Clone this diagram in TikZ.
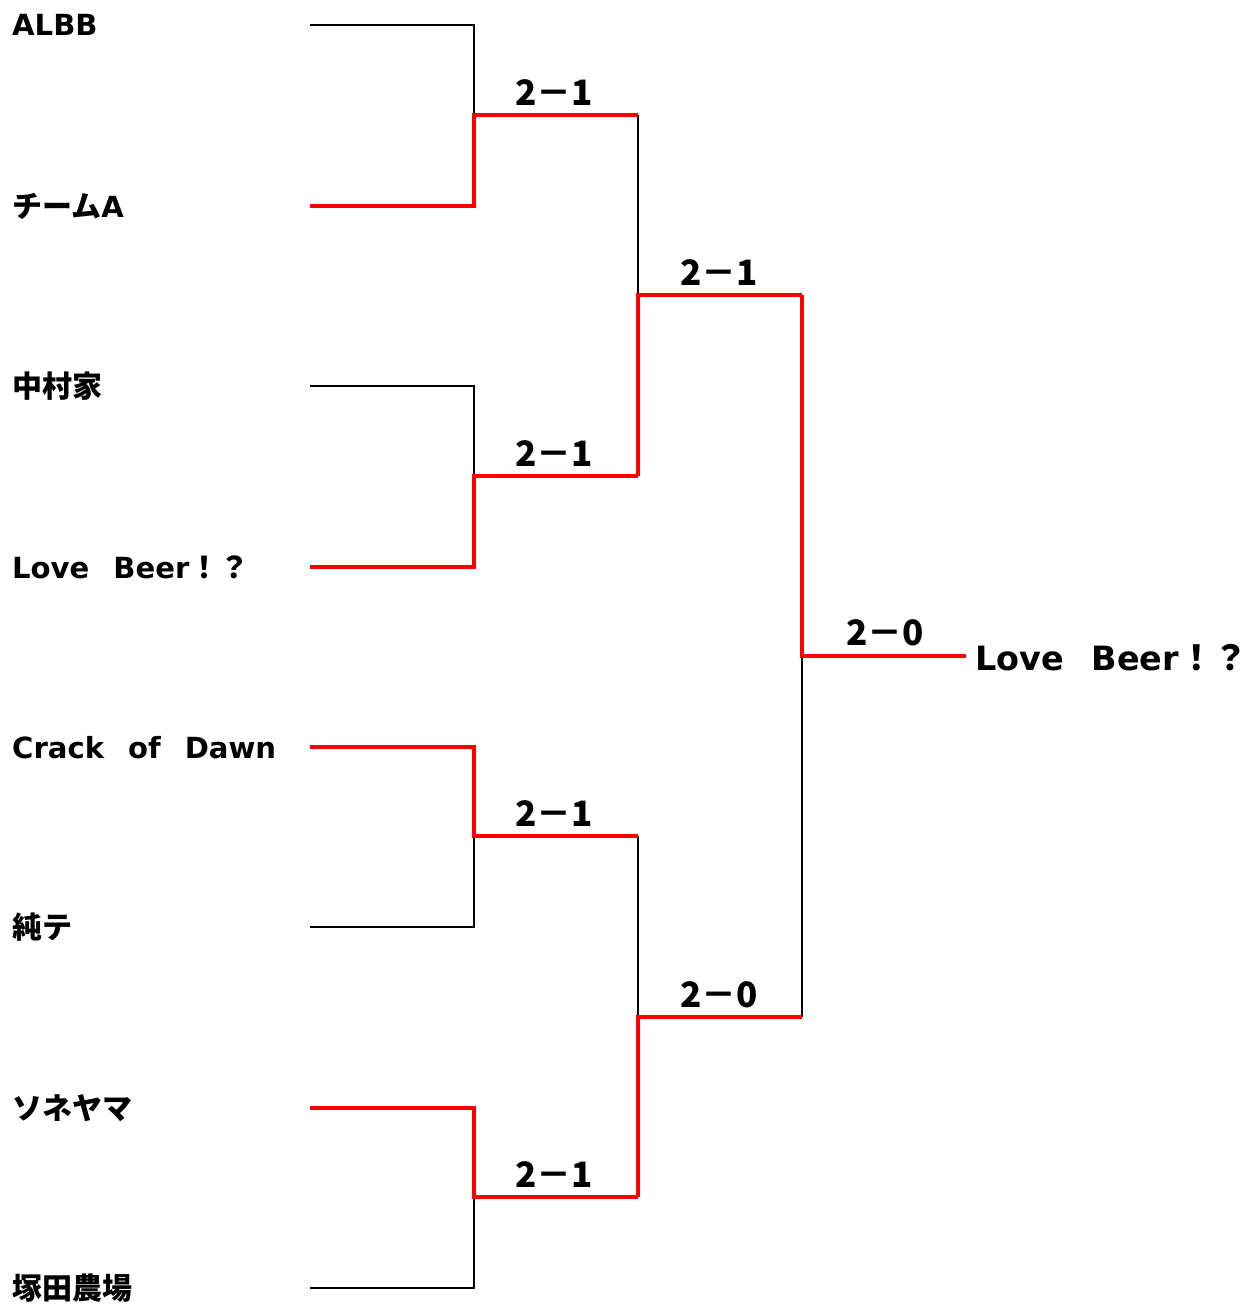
\documentclass[tikz,border=0pt]{standalone}
\usepackage{fontspec}
\setmainfont{Noto Sans CJK JP}
\newfontfamily\latf{DejaVu Sans}[Scale=0.97]
\newfontfamily\spf{Noto Sans CJK JP}[Scale=0.8]
\newcommand\lt[1]{{\latf\bfseries #1}}
\newcommand\zs{{\spf　}}
\begin{document}
\begin{tikzpicture}[x=1pt,y=-1pt,
  team/.style={anchor=base west,inner sep=0pt,font=\fontsize{30}{32}\selectfont\bfseries},
  champ/.style={anchor=base west,inner sep=0pt,font=\fontsize{34.5}{36}\selectfont\bfseries},
  score/.style={anchor=base,inner sep=0pt,font=\fontsize{35}{37}\selectfont\bfseries},
  lose/.style={draw=black,line width=2pt,line join=miter},
  win/.style={draw=red,line width=4pt,line join=miter}]
\useasboundingbox (0,0) rectangle (1247,1306);
% team labels
\node[team] (t1) at (12,36) {\lt{ALBB}};
\node[team] (t2) at (12,217) {チーム\lt{A}};
\node[team] (t3) at (12,397) {中村家};
\node[team] (t4) at (12,578) {\lt{Love}\zs\lt{Beer}！？};
\node[team] (t5) at (12,758) {\lt{Crack}\zs\lt{of}\zs\lt{Dawn}};
\node[team] (t6) at (12,938) {純テ};
\node[team] (t7) at (12,1119) {ソネヤマ};
\node[team] (t8) at (12,1299) {塚田農場};
% line starts
\foreach \i/\y in {1/25,2/206,3/386,4/567,5/747,6/927,7/1108,8/1288}{
  \coordinate (s\i) at (310,\y);
  \coordinate (e\i) at (474,\y);
}
% round 1 junctions
\coordinate (j1) at (474,115);   \coordinate (k1) at (638,115);
\coordinate (j2) at (474,476);   \coordinate (k2) at (638,476);
\coordinate (j3) at (474,836);   \coordinate (k3) at (638,836);
\coordinate (j4) at (474,1197);  \coordinate (k4) at (638,1197);
% round 2
\coordinate (m1) at (638,295);   \coordinate (n1) at (802,295);
\coordinate (m2) at (638,1017);  \coordinate (n2) at (802,1017);
% final
\coordinate (f) at (802,656);    \coordinate (g) at (966,656);
\node[champ] (cw) at (975,670) {\lt{Love}\zs\lt{Beer}！？};
% losers (black)
\draw[lose] (s1) -- (e1) -- (j1);
\draw[lose] (s3) -- (e3) -- (j2);
\draw[lose] (s6) -- (e6) -- (j3);
\draw[lose] (s8) -- (e8) -- (j4);
\draw[lose] (k1) -- (m1);
\draw[lose] (k3) -- (m2);
\draw[lose] (n2) -- (f);
% winners (red)
\draw[win] (s2) -- (e2) -- (j1) -- (k1);
\draw[win] (s4) -- (e4) -- (j2) -- (k2);
\draw[win] (s5) -- (e5) -- (j3) -- (k3);
\draw[win] (s7) -- (e7) -- (j4) -- (k4);
\draw[win] (k2) -- (m1) -- (n1);
\draw[win] (k4) -- (m2) -- (n2);
\draw[win] (n1) -- (f) -- (g);
% scores
\node[score] (r1) at (554,105) {2－1};
\node[score] (r2) at (554,466) {2－1};
\node[score] (r3) at (554,826) {2－1};
\node[score] (r4) at (554,1187) {2－1};
\node[score] (q1) at (719,285) {2－1};
\node[score] (q2) at (719,1007) {2－0};
\node[score] (fs) at (885,645) {2－0};
\end{tikzpicture}
\end{document}
